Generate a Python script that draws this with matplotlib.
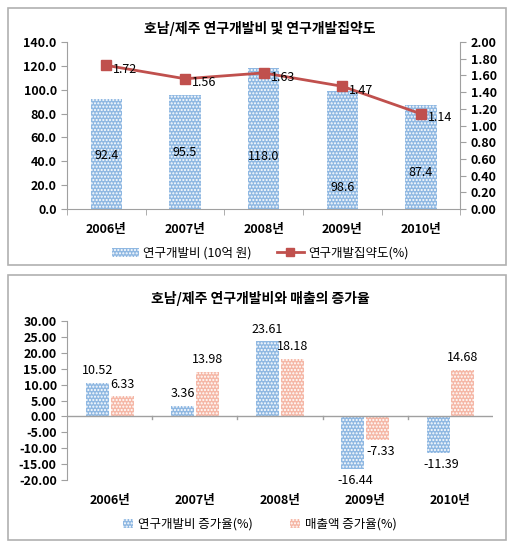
import numpy as np
import matplotlib.pyplot as plt
from matplotlib.patches import Rectangle, Patch
from matplotlib.lines import Line2D

plt.rcParams['font.family'] = ['Noto Sans CJK KR', 'DejaVu Sans']
plt.rcParams['hatch.linewidth'] = 1.0

# 데이터
years = ['2006년', '2007년', '2008년', '2009년', '2010년']
rd_cost = [92.4, 95.5, 118.0, 98.6, 87.4]
rd_label_y = [45, 47, 44, 18, 31]
rd_intensity = [1.72, 1.56, 1.63, 1.47, 1.14]
rd_growth = [10.52, 3.36, 23.61, -16.44, -11.39]
sales_growth = [6.33, 13.98, 18.18, -7.33, 14.68]

blue = '#8fb8e2'
pink = '#f5b7a6'
red = '#c0504d'
grey = '#a0a0a0'

fig = plt.figure(figsize=(5.2, 5.5), dpi=100)

# 패널 테두리
for y0, h in [(0.518, 0.467), (0.018, 0.482)]:
    fig.patches.append(Rectangle((0.015, y0), 0.958, h, transform=fig.transFigure,
                                 fill=False, edgecolor='#b0b0b0', linewidth=1.2))

x = np.arange(len(years))

# ---- 위 차트 ----
ax = fig.add_axes([0.129, 0.62, 0.756, 0.3036])
ax.bar(x, rd_cost, width=0.4, color=blue, edgecolor='white', linewidth=0, hatch='.....')
ax.set_ylim(0, 140)
ax.set_xlim(-0.5, 4.5)
ax.set_yticks(np.arange(0, 141, 20))
ax.set_yticklabels([f'{v:.1f}' for v in np.arange(0, 141, 20)], fontsize=9, fontweight='bold')
ax.set_xticks(x)
ax.set_xticklabels(years, fontsize=9, fontweight='bold')
ax.tick_params(axis='x', length=0, pad=10)
ax.set_xticks(np.arange(-0.5, 5, 1), minor=True)
ax.tick_params(axis='x', which='minor', length=4, color=grey)
ax.tick_params(axis='y', length=4, color=grey)
for i, v in enumerate(rd_cost):
    ax.text(i, rd_label_y[i], f'{v:.1f}', ha='center', va='center', fontsize=9)
for s in ['top', 'right']:
    ax.spines[s].set_visible(False)
ax.spines['left'].set_color(grey)
ax.spines['bottom'].set_color(grey)

ax2 = ax.twinx()
ax2.plot(x, rd_intensity, color=red, linewidth=2, marker='s', markersize=7)
ax2.set_ylim(0, 2.0)
ax2.set_yticks(np.arange(0, 2.01, 0.2))
ax2.set_yticklabels([f'{v:.2f}' for v in np.arange(0, 2.01, 0.2)], fontsize=9, fontweight='bold')
ax2.tick_params(axis='y', length=4, color=grey)
for s in ['top', 'left', 'bottom']:
    ax2.spines[s].set_visible(False)
ax2.spines['right'].set_color(grey)
for i, v in enumerate(rd_intensity):
    ax2.annotate(f'{v:.2f}', (i, v), xytext=(5, -3), textcoords='offset points',
                 ha='left', va='center', fontsize=9)

fig.text(0.5, 0.949, '호남/제주 연구개발비 및 연구개발집약도', ha='center', va='center',
         fontsize=10, fontweight='bold')
h1 = [Patch(facecolor=blue, edgecolor='white', linewidth=0, hatch='.....'),
      Line2D([], [], color=red, linewidth=2, marker='s', markersize=6)]
fig.legend(h1, ['연구개발비 (10억 원)', '연구개발집약도(%)'], loc='center',
           bbox_to_anchor=(0.5, 0.54), ncol=2, frameon=False, fontsize=9,
           handlelength=2.2, columnspacing=2.0, handletextpad=0.3)

# ---- 아래 차트 ----
bx = fig.add_axes([0.129, 0.1273, 0.819, 0.289])
w = 0.27
bx.bar(x - w / 2 - 0.01, rd_growth, width=w, color=blue, edgecolor='white', linewidth=0, hatch='.....')
bx.bar(x + w / 2 + 0.01, sales_growth, width=w, color=pink, edgecolor='white', linewidth=0, hatch='.....')
bx.set_ylim(-20, 30)
bx.set_xlim(-0.5, 4.5)
bx.set_yticks(np.arange(-20, 31, 5))
bx.set_yticklabels([f'{v:.2f}' for v in np.arange(-20, 31, 5)], fontsize=9, fontweight='bold')
bx.tick_params(axis='y', length=4, color=grey)
bx.set_xticks(x)
bx.set_xticklabels(years, fontsize=9, fontweight='bold')
bx.xaxis.set_ticks_position('bottom')
bx.tick_params(axis='x', length=0, pad=10)
for s in ['top', 'right', 'bottom']:
    bx.spines[s].set_visible(False)
bx.spines['left'].set_color(grey)
bx.axhline(0, color=grey, linewidth=1)
for xb in np.arange(0.5, 4.5, 1):
    bx.plot([xb, xb], [0, -0.8], color=grey, linewidth=1)
for i in range(len(years)):
    for off, v in [(-w / 2 - 0.01, rd_growth[i]), (w / 2 + 0.01, sales_growth[i])]:
        if v >= 0:
            bx.annotate(f'{v:.2f}', (i + off, v), xytext=(0, 4), textcoords='offset points',
                        ha='center', va='bottom', fontsize=9)
        else:
            bx.annotate(f'{v:.2f}', (i + off, v), xytext=(2, -4), textcoords='offset points',
                        ha='center', va='top', fontsize=9)

fig.text(0.5, 0.458, '호남/제주 연구개발비와 매출의 증가율', ha='center', va='center',
         fontsize=10, fontweight='bold')
h2 = [Patch(facecolor=blue, edgecolor='white', linewidth=0, hatch='.....'),
      Patch(facecolor=pink, edgecolor='white', linewidth=0, hatch='.....')]
fig.legend(h2, ['연구개발비 증가율(%)', '매출액 증가율(%)'], loc='center',
           bbox_to_anchor=(0.5, 0.047), ncol=2, frameon=False, fontsize=9,
           handlelength=0.8, handleheight=0.8, columnspacing=3.0, handletextpad=0.4)

fig.savefig('out.png', dpi=100)
